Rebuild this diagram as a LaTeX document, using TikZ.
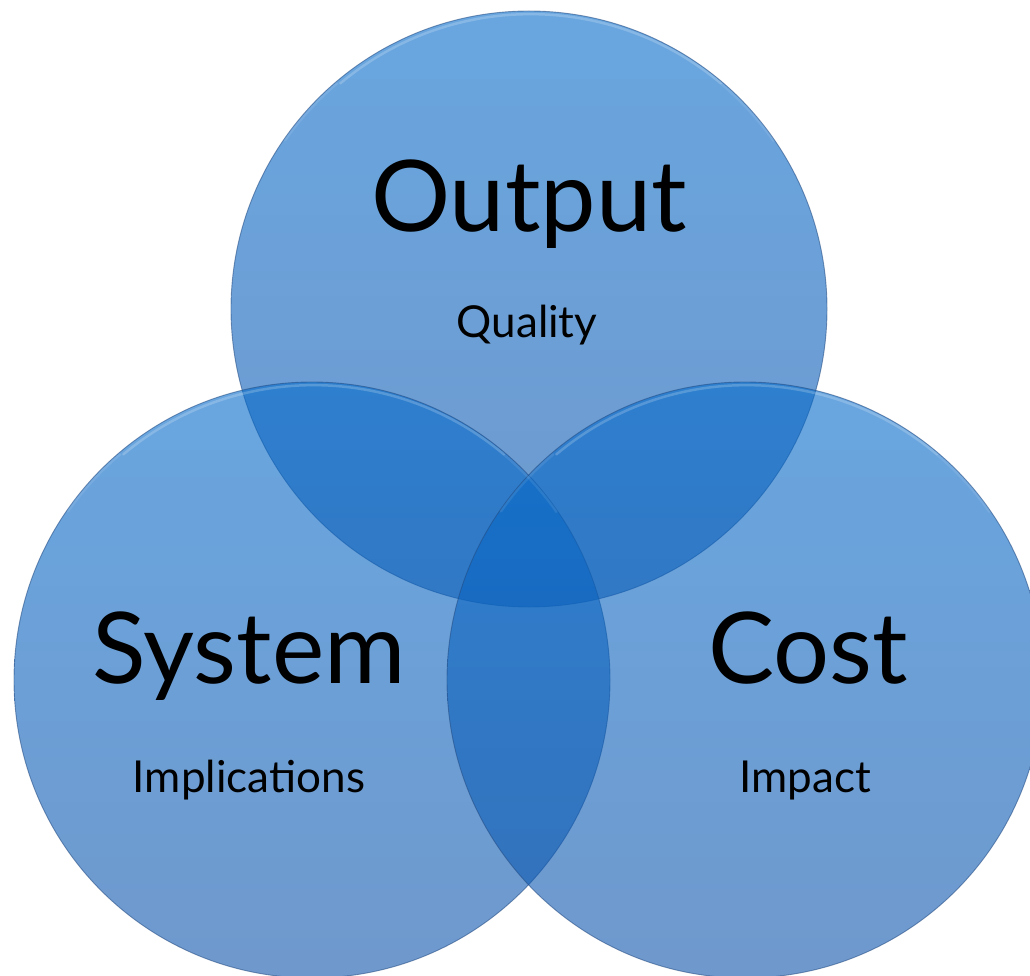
\documentclass[tikz,border=0pt]{standalone}
\usepackage{fontspec}
\setmainfont{Lato}
\definecolor{venntop}{RGB}{5,107,203}
\definecolor{vennbot}{RGB}{15,85,172}
\definecolor{vennedge}{RGB}{35,75,130}
\begin{document}
\begin{tikzpicture}[x=1pt,y=-1pt,
  venn/.style={circle,minimum size=596pt,inner sep=0pt,top color=venntop,bottom color=vennbot,
    fill opacity=0.6,draw=vennedge,draw opacity=0.55,line width=0.9pt},
  gloss/.style={draw=white,draw opacity=0.2,line width=2.5pt,line cap=round},
  glossfade/.style={draw=white,draw opacity=0.09,line width=2.5pt,line cap=round},
  bigtxt/.style={anchor=base,inner sep=0pt,font=\fontsize{99}{99}\selectfont},
  smalltxt/.style={anchor=base,inner sep=0pt,font=\fontsize{44}{44}\selectfont}]
\useasboundingbox (0,0) rectangle (1030,976);
\clip (0,0) rectangle (1030,976);
\fill[white] (0,0) rectangle (1030,976);
% circles
\node[venn] (top)   at (529,309) {};
\node[venn] (left)  at (312,680) {};
\node[venn] (right) at (745,680) {};
% glossy highlights near the top edges
\foreach \c in {top,left,right}{
  \draw[gloss] ([shift={(0,3)}]\c.50) arc[start angle=50,end angle=130,radius=296pt];
  \draw[glossfade] ([shift={(0,3)}]\c.35) arc[start angle=35,end angle=50,radius=296pt];
  \draw[glossfade] ([shift={(0,3)}]\c.130) arc[start angle=130,end angle=145,radius=296pt];
}
% labels
\node[bigtxt] (output) at (529,232) {Output};
\node[smalltxt] (quality) at (527,337) {Quality};
\node[bigtxt] (system) at (249,683) {System};
\node[smalltxt] (implications) at (249,792) {Implications};
\node[bigtxt] (cost) at (808,683) {Cost};
\node[smalltxt] (impact) at (805,792) {Impact};
\end{tikzpicture}
\end{document}
